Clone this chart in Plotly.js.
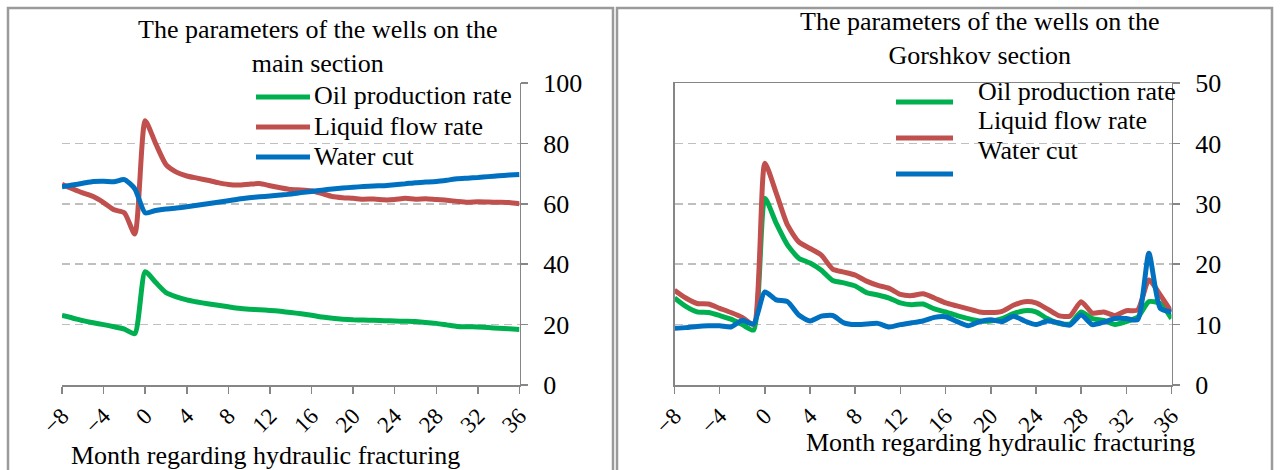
<!DOCTYPE html>
<html>
<head>
<meta charset="utf-8">
<script src="https://cdn.plot.ly/plotly-3.0.1.min.js"></script>
<style>
  html, body { margin: 0; padding: 0; background: #ffffff; }
  #chart { width: 1281px; height: 470px; }
</style>
</head>
<body>
<div id="chart"></div>
<script>
// ---- data ----
const months = [-8,-7,-6,-5,-4,-3,-2,-1,0,1,2,3,4,5,6,7,8,9,10,11,12,13,14,15,16,17,18,19,20,21,22,23,24,25,26,27,28,29,30,31,32,33,34,35,36];
const xTickVals = [-8,-4,0,4,8,12,16,20,24,28,32,36];
const yTicksMain = [0,20,40,60,80,100];
const yTicksGorshkov = [0,10,20,30,40,50];
const seriesNames = ["Oil production rate","Liquid flow rate","Water cut"];
const titleMain = "The parameters of the wells on the<br>main section";
const titleGorshkov = "The parameters of the wells on the<br>Gorshkov section";
const xTitle = "Month regarding hydraulic fracturing";

const mainOil = [23.0,22.2,21.3,20.6,20.0,19.3,18.5,17.0,37.5,34.0,30.6,29.2,28.2,27.5,26.9,26.4,25.9,25.4,25.1,24.9,24.7,24.4,24.0,23.6,23.1,22.5,22.1,21.8,21.6,21.5,21.4,21.3,21.2,21.1,21.0,20.7,20.4,19.9,19.4,19.3,19.2,19.0,18.8,18.6,18.4];
const mainLiquid = [66.5,65.0,63.6,62.4,60.4,58.0,57.0,50.0,87.5,80.0,73.0,70.5,69.2,68.5,67.8,67.0,66.4,66.2,66.5,66.7,66.0,65.3,64.7,64.6,64.3,63.4,62.4,62.0,61.8,61.5,61.6,61.3,61.4,61.8,61.5,61.7,61.4,61.2,60.8,60.5,60.7,60.6,60.5,60.4,60.0];
const mainWater = [65.6,66.2,66.8,67.4,67.5,67.3,68.0,65.0,57.0,57.8,58.3,58.6,59.0,59.5,60.0,60.5,61.0,61.6,62.0,62.3,62.6,62.9,63.2,63.7,64.1,64.5,64.9,65.2,65.5,65.7,65.9,66.0,66.3,66.6,67.0,67.2,67.4,67.8,68.3,68.5,68.7,69.0,69.3,69.5,69.7];

const gorOil = [14.4,13.0,12.1,12.0,11.5,10.9,10.0,9.1,30.9,26.8,23.2,21.0,20.2,19.0,17.3,16.9,16.4,15.3,14.9,14.4,13.6,13.3,13.4,12.6,12.1,11.5,11.0,10.6,10.6,11.0,11.8,12.3,12.1,11.0,10.2,10.1,12.1,11.0,10.7,10.0,10.5,11.2,13.8,13.5,11.0];
const gorLiquid = [15.7,14.4,13.5,13.4,12.7,12.0,11.2,10.0,36.7,31.8,26.5,23.7,22.6,21.5,19.2,18.7,18.2,17.2,16.5,16.0,15.0,14.8,15.1,14.4,13.6,13.1,12.6,12.1,12.0,12.2,13.2,13.8,13.6,12.6,11.5,11.4,13.8,11.9,12.1,11.5,12.3,12.4,17.4,14.9,12.1];
const gorWater = [9.4,9.5,9.7,9.8,9.8,9.6,10.7,10.1,15.4,14.1,13.8,11.6,10.6,11.4,11.5,10.3,10.0,10.1,10.2,9.6,10.0,10.3,10.6,11.2,11.3,10.5,9.8,10.5,10.8,10.5,11.4,10.6,10.0,10.6,10.3,9.9,11.6,10.0,10.4,11.0,11.0,10.8,21.8,12.7,12.1];

const colors = ["#00B050","#C0504D","#0070C0"];

// ---- layout helpers ----
const W = 1281, H = 470;
const px = x => x / W;
const py = y => (H - y) / H;
const FONT = "'Liberation Serif', 'Times New Roman', Times, serif";

function trace(y, i, xa, ya) {
  return {
    x: months, y: y, name: seriesNames[i], type: "scatter", mode: "lines",
    xaxis: xa, yaxis: ya, showlegend: false, hoverinfo: "skip",
    line: { color: colors[i], width: 5, shape: "spline", smoothing: 0.6 }
  };
}

const data = [
  trace(mainOil, 0, "x", "y"),
  trace(mainLiquid, 1, "x", "y"),
  trace(mainWater, 2, "x", "y"),
  trace(gorOil, 0, "x2", "y2"),
  trace(gorLiquid, 1, "x2", "y2"),
  trace(gorWater, 2, "x2", "y2")
];

const axisCommon = {
  showline: true, linecolor: "#868686", linewidth: 1.5,
  ticks: "outside", tickcolor: "#868686", ticklen: 7, tickwidth: 1.5,
  zeroline: false, fixedrange: true
};
const xCommon = Object.assign({}, axisCommon, {
  range: [-8, 36], tickvals: xTickVals, tickangle: -45, showgrid: false,
  tickfont: { family: FONT, size: 23, color: "#000" }
});
const yCommon = Object.assign({}, axisCommon, {
  side: "right", showgrid: true, gridcolor: "#BFBFBF", gridwidth: 1.5, griddash: "8px,5px",
  tickfont: { family: FONT, size: 26, color: "#000" }, ticklabelstandoff: 10
});
const yDomain = [py(385), py(83)];

const shapes = [
  // panel frames
  { type: "rect", xref: "paper", yref: "paper", x0: px(8), x1: px(613), y0: -0.2, y1: py(8), line: { color: "#9a9a9a", width: 2.5 } },
  { type: "rect", xref: "paper", yref: "paper", x0: px(617), x1: px(1272), y0: -0.2, y1: py(8), line: { color: "#9a9a9a", width: 2.5 } }
];
const annotations = [];

function legend(lineX0, lineX1, lineYs, textX, textYs) {
  for (let i = 0; i < 3; i++) {
    shapes.push({ type: "line", xref: "paper", yref: "paper", x0: px(lineX0), x1: px(lineX1), y0: py(lineYs[i]), y1: py(lineYs[i]), line: { color: colors[i], width: 5 } });
    annotations.push({ xref: "paper", yref: "paper", x: px(textX), y: py(textYs[i]), xanchor: "left", yanchor: "middle", showarrow: false, text: seriesNames[i], font: { family: FONT, size: 26, color: "#000" } });
  }
}
legend(256, 310, [97, 127, 157], 312, [96, 126, 156]);
legend(896, 953, [102, 138, 174], 976, [91, 121, 151]);

annotations.push(
  { xref: "paper", yref: "paper", x: px(318), y: py(46), xanchor: "center", yanchor: "middle", showarrow: false, text: titleMain, font: { family: FONT, size: 26, color: "#000" } },
  { xref: "paper", yref: "paper", x: px(980), y: py(39), xanchor: "center", yanchor: "middle", showarrow: false, text: titleGorshkov, font: { family: FONT, size: 26, color: "#000" } },
  { xref: "paper", yref: "paper", x: px(265), y: py(455), xanchor: "center", yanchor: "middle", showarrow: false, text: xTitle, font: { family: FONT, size: 26, color: "#000" } },
  { xref: "paper", yref: "paper", x: px(1000), y: py(442), xanchor: "center", yanchor: "middle", showarrow: false, text: xTitle, font: { family: FONT, size: 26, color: "#000" } }
);

const layout = {
  width: W, height: H,
  margin: { l: 0, r: 0, t: 0, b: 0 },
  paper_bgcolor: "#ffffff", plot_bgcolor: "#ffffff",
  showlegend: false,
  font: { family: FONT },
  xaxis: Object.assign({}, xCommon, { domain: [px(62), px(519.5)], anchor: "y" }),
  yaxis: Object.assign({}, yCommon, { domain: yDomain, range: [0, 100], tickvals: yTicksMain, anchor: "x" }),
  xaxis2: Object.assign({}, xCommon, { domain: [px(674.5), px(1171.5)], anchor: "y2", mirror: true }),
  yaxis2: Object.assign({}, yCommon, { domain: yDomain, range: [0, 50], tickvals: yTicksGorshkov, anchor: "x2", mirror: true }),
  shapes: shapes,
  annotations: annotations
};

Plotly.newPlot("chart", data, layout, { staticPlot: true, displayModeBar: false });
</script>
</body>
</html>
